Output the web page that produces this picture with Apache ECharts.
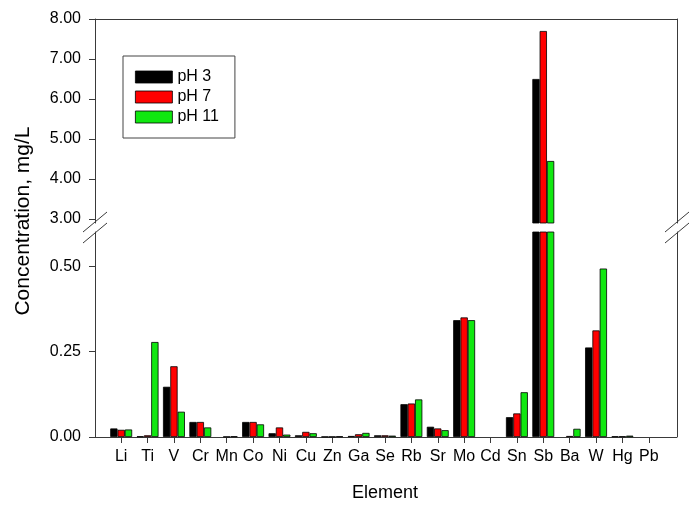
<!DOCTYPE html>
<html>
<head>
<meta charset="utf-8">
<script src="https://cdn.jsdelivr.net/npm/echarts@6/dist/echarts.min.js"></script>
<style>html,body{margin:0;padding:0;background:#fff}#c{width:694px;height:509px}</style>
</head>
<body>
<div id="c"></div>
<script>
const categories = ['Li','Ti','V','Cr','Mn','Co','Ni','Cu','Zn','Ga','Se','Rb','Sr','Mo','Cd','Sn','Sb','Ba','W','Hg','Pb'];
const seriesNames = ['pH 3','pH 7','pH 11'];
const pH3  = [0.025,0.002,0.147,0.044,0.000,0.044,0.011,0.005,0.001,0.003,0.005,0.096,0.030,0.342,0,0.058,6.50,0.000,0.262,0.002,0];
const pH7  = [0.021,0.005,0.207,0.044,0.001,0.044,0.028,0.015,0.001,0.008,0.005,0.098,0.025,0.350,0,0.069,7.70,0.003,0.312,0.002,0];
const pH11 = [0.022,0.278,0.074,0.028,0.002,0.037,0.007,0.011,0.002,0.012,0.004,0.110,0.020,0.342,0,0.131,4.45,0.024,0.493,0.004,0];
const upperTicks = [3,4,5,6,7,8];
const lowerTicks = [0,0.25,0.5];

const colors = ['#000000','#ff0000','#10e810'];
const font = 'Liberation Sans, Arial, sans-serif';
const upperMin = 2.9, upperMax = 8, lowerMin = 0, lowerMax = 0.6;
const axisColor = '#3a3a3a';

const chart = echarts.init(document.getElementById('c'));
const allData = [pH3, pH7, pH11];

const series = [];
allData.forEach((arr, i) => {
  series.push({
    name: seriesNames[i], type: 'bar', xAxisIndex: 0, yAxisIndex: 0,
    barWidth: 7.3, barGap: '0%', clip: true,
    itemStyle: {color: colors[i], borderColor: '#000', borderWidth: 0.8},
    data: arr.map(v => v >= upperMin ? v : '-')
  });
});
allData.forEach((arr, i) => {
  series.push({
    name: seriesNames[i], type: 'bar', xAxisIndex: 1, yAxisIndex: 1,
    barWidth: 7.3, barGap: '0%', clip: true,
    itemStyle: {color: colors[i], borderColor: '#000', borderWidth: 0.8},
    data: arr.map(v => v > 0 ? v : '-')
  });
});

const lbl = {color: '#000', fontFamily: font, fontSize: 16};
function breakMarks(cx) {
  return [
    {type:'line', shape:{x1:cx-12, y1:232, x2:cx+12, y2:212}, style:{stroke:axisColor, lineWidth:1}},
    {type:'line', shape:{x1:cx-12, y1:243, x2:cx+12, y2:223}, style:{stroke:axisColor, lineWidth:1}}
  ];
}

chart.setOption({
  animation: false,
  backgroundColor: '#fff',
  textStyle: {fontFamily: font},
  grid: [
    {left: 108, right: 32, top: 19, height: 204},
    {left: 108, right: 32, top: 232, bottom: 72}
  ],
  legend: {
    data: seriesNames, orient: 'vertical', left: 123, top: 56,
    icon: 'rect', itemWidth: 37, itemHeight: 12, itemGap: 4, itemTextGap: 10,
    padding: [13, 16, 13, 12],
    borderColor: '#444', borderWidth: 1,
    textStyle: {color: '#000', fontFamily: font, fontSize: 16},
    itemStyle: {borderColor: '#000', borderWidth: 0.8}
  },
  xAxis: [
    {type: 'category', gridIndex: 0, data: categories, show: false},
    {type: 'category', gridIndex: 1, data: categories,
      axisLine: {show: false},
      axisTick: {show: true, alignWithLabel: true, length: 6, lineStyle: {color: axisColor}},
      axisLabel: Object.assign({margin: 12, interval: 0}, lbl),
      name: 'Element', nameLocation: 'middle', nameGap: 47,
      nameTextStyle: {color: '#000', fontFamily: font, fontSize: 18}
    }
  ],
  yAxis: [
    {type: 'value', gridIndex: 0, position: 'left', offset: 13, min: upperMin, max: upperMax,
      axisLine: {show: true, lineStyle: {color: axisColor}},
      axisTick: {show: true, length: 6, customValues: upperTicks, lineStyle: {color: axisColor}},
      axisLabel: Object.assign({margin: 14, customValues: upperTicks, formatter: v => Number(v).toFixed(2)}, lbl),
      splitLine: {show: false}},
    {type: 'value', gridIndex: 1, position: 'left', offset: 13, min: lowerMin, max: lowerMax,
      axisLine: {show: true, lineStyle: {color: axisColor}},
      axisTick: {show: true, length: 6, customValues: lowerTicks, lineStyle: {color: axisColor}},
      axisLabel: Object.assign({margin: 14, customValues: lowerTicks, formatter: v => Number(v).toFixed(2)}, lbl),
      splitLine: {show: false}},
    {type: 'value', gridIndex: 0, position: 'right', offset: 15, min: upperMin, max: upperMax,
      axisLine: {show: true, lineStyle: {color: axisColor}}, axisTick: {show: false}, axisLabel: {show: false}, splitLine: {show: false}},
    {type: 'value', gridIndex: 1, position: 'right', offset: 15, min: lowerMin, max: lowerMax,
      axisLine: {show: true, lineStyle: {color: axisColor}}, axisTick: {show: false}, axisLabel: {show: false}, splitLine: {show: false}}
  ],
  graphic: [
    {type:'line', shape:{x1:95, y1:19.5, x2:677, y2:19.5}, style:{stroke:axisColor, lineWidth:1}},
    {type:'line', shape:{x1:95, y1:437.5, x2:677, y2:437.5}, style:{stroke:axisColor, lineWidth:1}},
    ...breakMarks(95),
    ...breakMarks(677),
    {type:'text', x: 23, y: 221, rotation: Math.PI/2,
      style:{text:'Concentration, mg/L', fontFamily: font, fontSize: 21, fill:'#000', align:'center', verticalAlign:'middle'}}
  ],
  series: series
});
</script>
</body>
</html>
